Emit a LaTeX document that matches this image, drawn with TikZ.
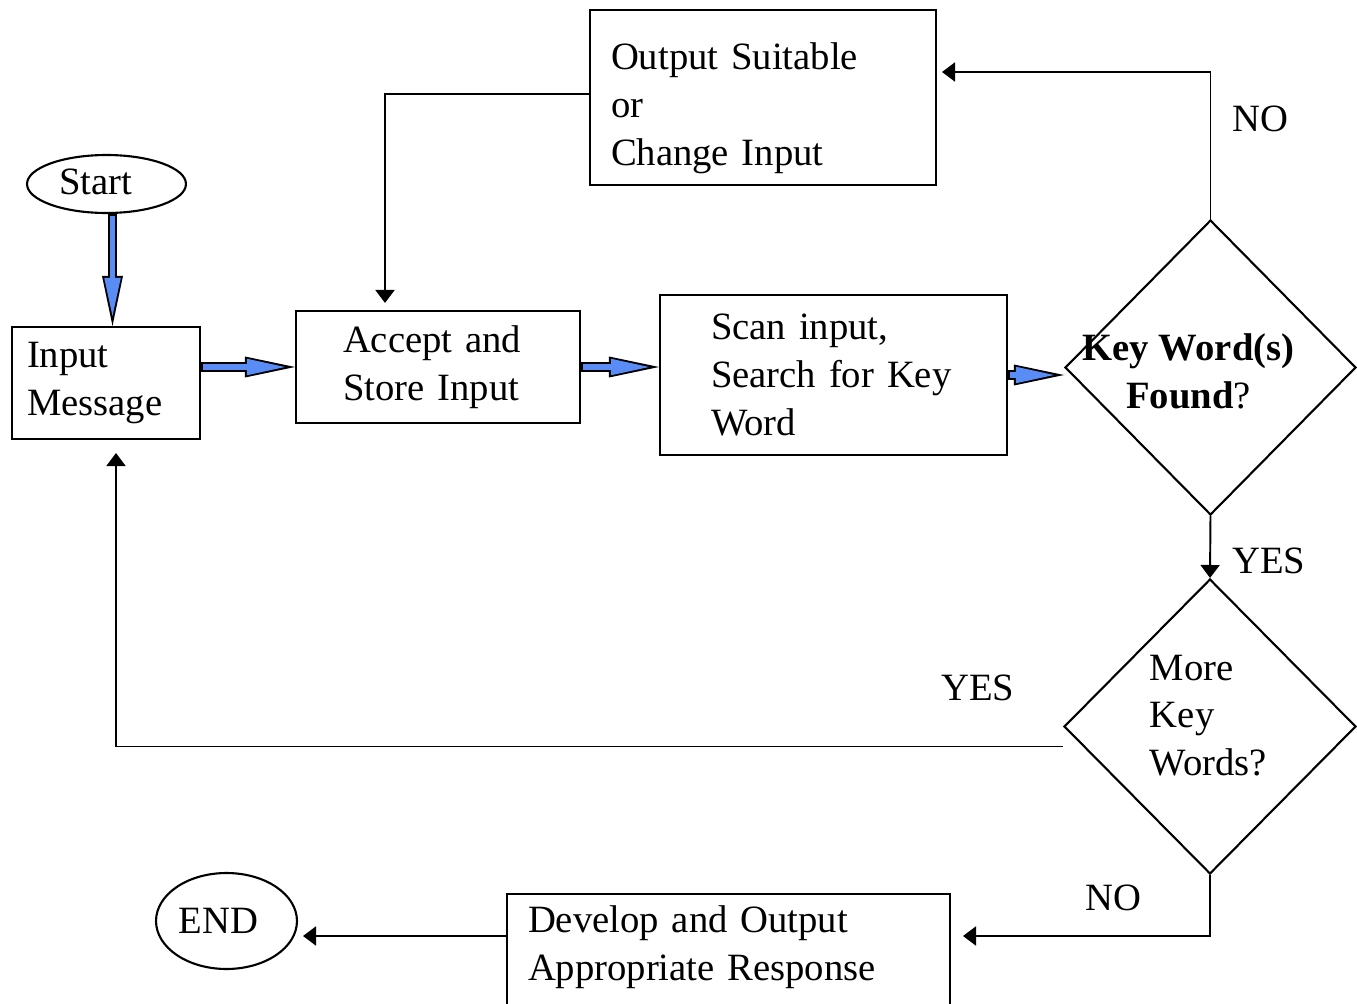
\documentclass[tikz,border=0pt]{standalone}
\usepackage{fontspec}
\setmainfont{Liberation Serif}
\usetikzlibrary{arrows.meta, positioning, calc, shapes.geometric}
\definecolor{arrowblue}{RGB}{90,140,245}

\begin{document}
\begin{tikzpicture}[x=0.02cm, y=-0.02cm, >={Triangle[length=0.26cm, width=0.38cm]},
    every node/.style={font=\fontsize{22pt}{27.2pt}\selectfont},
    procbox/.style={draw, line width=1.2pt, align=left, inner ysep=0pt},
    terminal/.style={draw, ellipse, line width=1.2pt, inner sep=0pt},
    decision/.style={draw, diamond, line width=1.2pt, inner sep=0pt},
    flow/.style={->, line width=1.1pt},
    blkout/.style={black, line width=0.2cm,
                   -{Triangle[length=1.0cm, width=0.42cm, line width=0pt]}},
    blkin/.style={arrowblue, line width=0.12cm, shorten <=0.04cm, shorten >=0.2cm,
                  -{Triangle[length=0.76cm, width=0.33cm, line width=0pt]}},
    lbl/.style={inner sep=2pt}]
  \useasboundingbox (0,0) rectangle (1357,1004);

  % Start and end
  \node[terminal, minimum width=3.18cm, minimum height=1.16cm,
        label={[xshift=-0.22cm, yshift=0.04cm]center:Start}] (start) at (106.5,184) {};
  \node[terminal, minimum width=2.82cm, minimum height=1.92cm,
        label={[xshift=-0.16cm]center:END}] (stop) at (226.5,921) {};

  % Process boxes
  \node[procbox, text width=3.16cm, inner xsep=0.30cm, minimum height=2.24cm]
    (inp) at (106,383) {Input\\Message};
  \node[procbox, text width=3.80cm, inner xsep=0.94cm, minimum height=2.24cm]
    (acc) at (438,367) {Accept and\\Store Input};
  \node[procbox, text width=4.90cm, inner xsep=1.02cm, minimum height=3.20cm]
    (scan) at (833.5,375) {Scan input,\\Search for Key\\Word};
  \node[procbox, text width=6.08cm, inner xsep=0.42cm, minimum height=3.50cm]
    (outp) at (763,97.5) {\rule{0pt}{1.25em}Output Suitable\\or\\Change Input};
  \node[procbox, text width=8.02cm, inner xsep=0.42cm, minimum height=2.40cm]
    (dev) at (728.5,954) {Develop and Output\\Appropriate Response\rule[-0.58em]{0pt}{0pt}};

  % Decisions
  \node[decision, minimum width=5.82cm, minimum height=5.9cm,
        label={[shift={(-0.44cm,-0.08cm)}, align=center]center:{\textbf{Key Word(s)}\\\textbf{Found}?}}]
    (d1) at (1210.5,367.5) {};
  \node[decision, minimum width=5.84cm, minimum height=5.9cm,
        label={[shift={(-0.03cm,0.22cm)}, align=left]center:{More\\Key\\Words?}}]
    (d2) at (1210,726.5) {};

  % Blue block arrows (outline first, then the fill)
  \coordinate (startout) at ([xshift=0.12cm]start.south);
  \draw[blkout] (startout) -- (startout |- inp.north);
  \draw[blkin] (startout) -- (startout |- inp.north);
  \draw[blkout] (inp.east |- acc.west) -- (acc.west);
  \draw[blkin] (inp.east |- acc.west) -- (acc.west);
  \draw[blkout] (acc.east) -- (acc.east -| scan.west);
  \draw[blkin] (acc.east) -- (acc.east -| scan.west);
  \draw[blkout] (scan.east) -- (scan.east -| d1.west);
  \draw[blkin] (scan.east) -- (scan.east -| d1.west);

  % Branches
  \coordinate (devin) at ([yshift=0.36cm]dev.east);
  \coordinate (devout) at ([yshift=0.36cm]dev.west);
  \draw[flow, shorten >=0.1cm] (d1.north) |- node[lbl, pos=0.34, right=0.35cm] (no1) {NO}
    ([yshift=0.51cm]outp.east);
  \draw[flow, shorten >=0.14cm] ([yshift=0.07cm]outp.west) -| ([xshift=-1.06cm]acc.north);
  \draw[flow] (d1.south) -- node[lbl, pos=0.72, right=0.35cm] (yes1) {YES} (d2.north);
  \draw[flow, shorten >=0.26cm] ([yshift=-0.4cm]d2.west) -| node[lbl, pos=0.045, above=0.83cm] (yes2) {YES}
    ([xshift=0.2cm]inp.south);
  \draw[flow, shorten >=0.24cm] (d2.south) |- node[lbl, pos=0.687, above=0.41cm] (no2) {NO} (devin);
  \draw[flow, shorten >=0.1cm] (devout) -- (devout -| stop.east);
\end{tikzpicture}
\end{document}
